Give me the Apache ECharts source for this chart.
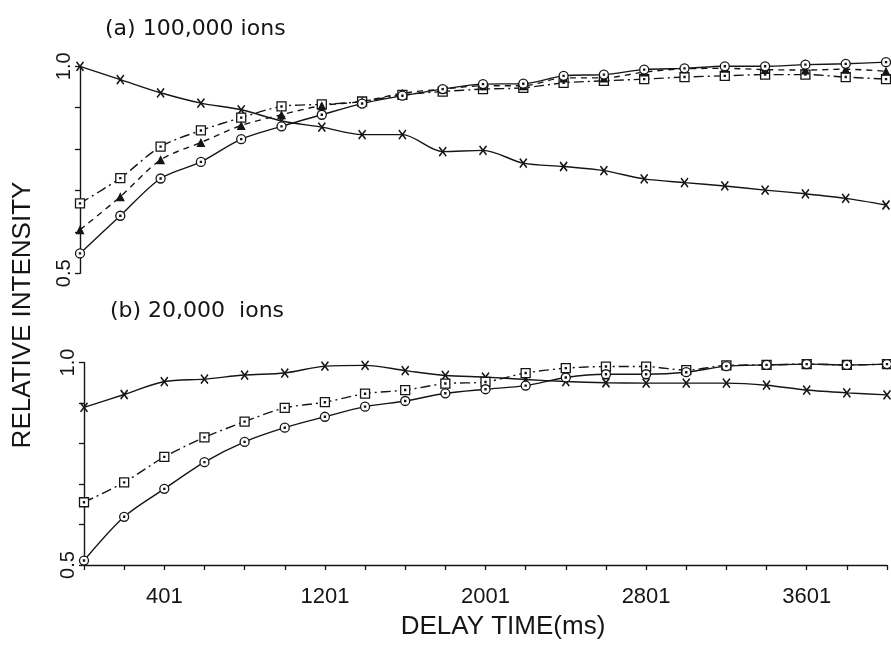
<!DOCTYPE html>
<html>
<head>
<meta charset="utf-8">
<script src="https://cdn.jsdelivr.net/npm/echarts@6/dist/echarts.min.js"></script>
<style>
  html, body { margin: 0; padding: 0; background: #fff; }
  #chart { width: 891px; height: 649px; }
</style>
</head>
<body>
<div id="chart"></div>
<script>
// ---- data ----
const delays = [1, 201, 401, 601, 801, 1001, 1201, 1401, 1601, 1801, 2001, 2201, 2401, 2601, 2801, 3001, 3201, 3401, 3601, 3801, 4001];
const xTickLabels = [401, 1201, 2001, 2801, 3601];
const yTickLabels = [0.5, 1.0];

// (a) 100,000 ions
const aCross  = [1.000, 0.968, 0.936, 0.911, 0.895, 0.868, 0.853, 0.835, 0.835, 0.794, 0.797, 0.766, 0.758, 0.748, 0.728, 0.719, 0.711, 0.701, 0.692, 0.681, 0.665];
const aSquare = [0.669, 0.730, 0.806, 0.845, 0.876, 0.903, 0.908, 0.915, 0.931, 0.939, 0.945, 0.948, 0.960, 0.965, 0.969, 0.974, 0.977, 0.980, 0.980, 0.974, 0.969];
const aTri    = [0.605, 0.685, 0.774, 0.816, 0.857, 0.883, 0.905, 0.915, 0.935, 0.945, 0.953, 0.953, 0.972, 0.972, 0.986, 0.994, 0.995, 0.992, 0.991, 0.993, 0.988];
const aCircle = [0.548, 0.639, 0.729, 0.769, 0.824, 0.855, 0.883, 0.910, 0.929, 0.945, 0.957, 0.958, 0.977, 0.980, 0.992, 0.995, 1.000, 1.000, 1.004, 1.006, 1.010];

// (b) 20,000 ions
const bCross  = [0.889, 0.921, 0.953, 0.959, 0.969, 0.974, 0.991, 0.993, 0.980, 0.968, 0.964, 0.958, 0.953, 0.950, 0.949, 0.949, 0.949, 0.944, 0.932, 0.925, 0.920];
const bSquare = [0.655, 0.704, 0.767, 0.815, 0.854, 0.888, 0.902, 0.923, 0.932, 0.948, 0.952, 0.974, 0.986, 0.990, 0.990, 0.981, 0.993, 0.994, 0.996, 0.994, 0.996];
const bCircle = [0.511, 0.619, 0.688, 0.754, 0.804, 0.839, 0.866, 0.891, 0.905, 0.924, 0.934, 0.943, 0.963, 0.971, 0.971, 0.976, 0.991, 0.994, 0.996, 0.994, 0.996];

// ---- styling ----
const FONT = 'Liberation Sans';
const TITLE_FONT = 'DejaVu Sans';
const INK = '#151515';
const SYM_CROSS  = 'path://M0 0 L10 12 M10 0 L0 12';
const SYM_SQUARE = 'path://M0 0 H10 V10 H0 Z M4.4 4.4 H5.6 V5.6 H4.4 Z';
const SYM_CIRCLE = 'path://M5 0 A5 5 0 1 1 5 10 A5 5 0 1 1 5 0 Z M4.4 4.4 H5.6 V5.6 H4.4 Z';

function lineSeries(data, g, kind) {
  const s = {
    type: 'line', xAxisIndex: g, yAxisIndex: g, data: data,
    smooth: 0.3, clip: false, showSymbol: true,
    lineStyle: { color: INK, width: 1.4, type: 'solid' },
    emphasis: { disabled: true }
  };
  if (kind === 'cross') {
    s.symbol = SYM_CROSS; s.symbolSize = [7, 9];
    s.itemStyle = { color: '#fff', borderColor: INK, borderWidth: 1.6 };
  } else if (kind === 'square') {
    s.symbol = SYM_SQUARE; s.symbolSize = 9;
    s.itemStyle = { color: '#fff', borderColor: INK, borderWidth: 1.3 };
    s.lineStyle.type = [10, 4, 2, 4];
  } else if (kind === 'tri') {
    s.symbol = 'triangle'; s.symbolSize = 9;
    s.itemStyle = { color: INK, borderColor: INK, borderWidth: 0 };
    s.lineStyle.type = [6, 5];
  } else {
    s.symbol = SYM_CIRCLE; s.symbolSize = 9;
    s.itemStyle = { color: '#fff', borderColor: INK, borderWidth: 1.3 };
  }
  return s;
}

function yAxisFor(g) {
  return {
    gridIndex: g, type: 'value', min: 0.5, max: 1.0, interval: 0.1,
    axisLine: { show: true, lineStyle: { color: INK, width: 1.4 } },
    axisTick: { show: true, inside: false, length: 5, lineStyle: { color: INK, width: 1.3 } },
    splitLine: { show: false },
    axisLabel: {
      rotate: 90, margin: 6, color: INK, fontFamily: FONT, fontSize: 20,
      formatter: v => yTickLabels.some(t => Math.abs(t - v) < 1e-9) ? v.toFixed(1) : ''
    }
  };
}

const chart = echarts.init(document.getElementById('chart'), null, { renderer: 'canvas' });
chart.setOption({
  animation: false,
  backgroundColor: '#fff',
  title: [
    { text: '(a) 100,000 ions', left: 100, top: 13,
      textStyle: { fontFamily: TITLE_FONT, fontSize: 22, fontWeight: 'normal', color: INK } },
    { text: '(b) 20,000  ions', left: 105, top: 295,
      textStyle: { fontFamily: TITLE_FONT, fontSize: 22, fontWeight: 'normal', color: INK } }
  ],
  grid: [
    { left: 80, right: 5, top: 66.3, height: 207 },
    { left: 84, right: 4, top: 362.5, height: 202.5 }
  ],
  xAxis: [
    { gridIndex: 0, type: 'category', data: delays.map(String), boundaryGap: false,
      axisLine: { show: false }, axisTick: { show: false }, axisLabel: { show: false }, splitLine: { show: false } },
    { gridIndex: 1, type: 'category', data: delays.map(String), boundaryGap: false,
      axisLine: { show: true, lineStyle: { color: INK, width: 1.4 } },
      axisTick: { show: true, interval: 0, inside: false, length: 5, lineStyle: { color: INK, width: 1.3 } },
      splitLine: { show: false },
      axisLabel: {
        interval: (i, v) => xTickLabels.includes(Number(v)),
        margin: 21, color: INK, fontFamily: FONT, fontSize: 22
      } }
  ],
  yAxis: [yAxisFor(0), yAxisFor(1)],
  graphic: [
    { type: 'text', x: 23, y: 315, rotation: Math.PI / 2,
      style: { text: 'RELATIVE INTENSITY', x: 0, y: 0, align: 'center', verticalAlign: 'middle',
               font: '26px "' + FONT + '"', fill: INK } },
    { type: 'text', x: 503, y: 627,
      style: { text: 'DELAY TIME(ms)', x: 0, y: 0, align: 'center', verticalAlign: 'middle',
               font: '26px "' + FONT + '"', fill: INK } }
  ],
  series: [
    lineSeries(aCross, 0, 'cross'),
    lineSeries(aSquare, 0, 'square'),
    lineSeries(aTri, 0, 'tri'),
    lineSeries(aCircle, 0, 'circle'),
    lineSeries(bCross, 1, 'cross'),
    lineSeries(bSquare, 1, 'square'),
    lineSeries(bCircle, 1, 'circle')
  ]
});
</script>
</body>
</html>
